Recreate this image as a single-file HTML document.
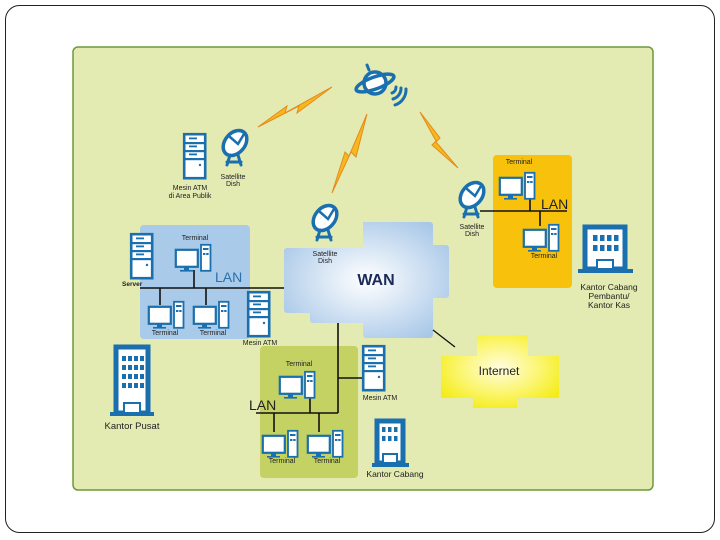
<!DOCTYPE html>
<html><head><meta charset="utf-8"><style>
html,body{margin:0;padding:0;background:#fff;}
svg{display:block;font-family:"Liberation Sans",Arial,sans-serif;}
</style></head><body>
<svg width="720" height="540" viewBox="0 0 720 540" xmlns="http://www.w3.org/2000/svg">
<defs>
<radialGradient id="wg" cx="0.5" cy="0.5" r="0.6"><stop offset="0" stop-color="#ffffff"/><stop offset="1" stop-color="#a9c8e8"/></radialGradient>
<radialGradient id="yg" cx="0.5" cy="0.45" r="0.6"><stop offset="0" stop-color="#fffde0"/><stop offset="0.6" stop-color="#fbf56a"/><stop offset="1" stop-color="#f4ec1a"/></radialGradient>
<g id="term">
<rect x="0.8" y="5.8" width="22" height="17" fill="#fff" stroke="#1a6fae" stroke-width="2.2"/>
<rect x="9" y="23" width="5" height="3" fill="#1a6fae"/><rect x="5" y="26" width="13" height="1.6" fill="#1a6fae"/>
<rect x="26" y="0.8" width="9.5" height="26" fill="#fff" stroke="#1a6fae" stroke-width="1.8"/>
<rect x="28" y="4" width="5.5" height="2" fill="#1a6fae"/><rect x="28" y="9" width="2.4" height="2" fill="#1a6fae"/><rect x="31.2" y="9" width="2.4" height="2" fill="#1a6fae"/>
</g>
<g id="srv">
<rect x="1.2" y="1.2" width="21" height="44" fill="#fff" stroke="#1a6fae" stroke-width="2.6"/>
<rect x="1.2" y="9" width="21" height="2.2" fill="#1a6fae"/><rect x="1.2" y="17" width="21" height="2.2" fill="#1a6fae"/><rect x="1.2" y="25" width="21" height="2.2" fill="#1a6fae"/>
<rect x="6" y="4.5" width="8" height="1.8" fill="#1a6fae"/><rect x="6" y="12.5" width="8" height="1.8" fill="#1a6fae"/><rect x="6" y="20.5" width="8" height="1.8" fill="#1a6fae"/>
<circle cx="17" cy="32" r="1.2" fill="#1a6fae"/>
</g>
<g id="dish" fill="none" stroke="#1a6fae" stroke-linecap="round">
<ellipse cx="17" cy="15" rx="10" ry="14" transform="rotate(40 17 15)" fill="#fff" stroke-width="3.5"/>
<path d="M12 9 L20 16 L26 6" stroke-width="2.5"/>
<path d="M12 27 L9 37 M20 27 L23 37 M9 34 L23 34" stroke-width="3"/>
</g>
<g id="bolt"><path d="M0 0 L14 -9 L12 -3 L30 -12 L16 -1 L18 -6 Z" fill="#f7b81e" stroke="#e08a1a" stroke-width="0.8"/></g>
</defs>
<rect x="5.5" y="5.5" width="709" height="527" rx="14" fill="#fff" stroke="#222" stroke-width="1"/>
<rect x="73" y="47" width="580" height="443" rx="5" fill="#e3eab2" stroke="#6d9a3a" stroke-width="1.5"/>

<!-- satellite -->
<g stroke="#1a6fae" fill="none" stroke-linecap="round">
<circle cx="375" cy="83" r="11" fill="#fff" stroke-width="3.5"/>
<ellipse cx="375" cy="83" rx="20" ry="6" transform="rotate(-20 375 83)" stroke-width="3.5"/>
<path d="M369 70 L367 65" stroke-width="3"/>
<path d="M392 93 a6 6 0 0 0 4 -6 M393 99 a11 11 0 0 0 8 -11 M395 105 a16 16 0 0 0 11 -16" stroke-width="3"/>
</g>
<!-- bolts -->
<path d="M258 127 L287 106 L285 113 L332 87 L297 113 L299 106 Z" fill="#f7b81e" stroke="#e58a1c" stroke-width="1"/>
<path d="M332 193 L345 152 L349 156 L367 114 L356 157 L351 152 Z" fill="#f7b81e" stroke="#e58a1c" stroke-width="1"/>
<path d="M420 112 L440 138 L436 142 L458 168 L432 145 L436 141 Z" fill="#f7b81e" stroke="#e58a1c" stroke-width="1"/>

<!-- ATM public -->
<use href="#srv" x="183" y="133"/>
<use href="#dish" x="218" y="128"/>
<text x="190" y="190" font-size="7" text-anchor="middle" fill="#222">Mesin ATM</text>
<text x="190" y="198" font-size="7" text-anchor="middle" fill="#222">di Area Publik</text>
<text x="233" y="179" font-size="7" text-anchor="middle" fill="#222">Satellite</text>
<text x="233" y="186" font-size="7" text-anchor="middle" fill="#222">Dish</text>

<!-- blue LAN -->
<rect x="140" y="225" width="110" height="114" rx="4" fill="#a9cbe9"/>
<g stroke="#111" stroke-width="1.6"><line x1="140" y1="288" x2="285" y2="288"/><line x1="194" y1="270" x2="194" y2="288"/><line x1="160" y1="288" x2="160" y2="305"/><line x1="206" y1="288" x2="206" y2="305"/></g>
<use href="#srv" x="130" y="233"/>
<text x="122" y="286" font-size="6.5" font-weight="bold" fill="#222">Server</text>
<use href="#term" x="175" y="244"/>
<text x="195" y="240" font-size="7" text-anchor="middle" fill="#222">Terminal</text>
<text x="215" y="282" font-size="14" fill="#2c6fad">LAN</text>
<use href="#term" x="148" y="301"/><use href="#term" x="193" y="301"/>
<text x="165" y="335" font-size="7" text-anchor="middle" fill="#222">Terminal</text>
<text x="213" y="335" font-size="7" text-anchor="middle" fill="#222">Terminal</text>
<use href="#srv" x="247" y="291"/>
<text x="260" y="345" font-size="7" text-anchor="middle" fill="#222">Mesin ATM</text>

<!-- WAN -->
<path d="M363 222 H430 a3 3 0 0 1 3 3 V245 H446 a3 3 0 0 1 3 3 V295 a3 3 0 0 1 -3 3 H433 V335 a3 3 0 0 1 -3 3 H366 a3 3 0 0 1 -3 -3 V323 H313 a3 3 0 0 1 -3 -3 V313 H287 a3 3 0 0 1 -3 -3 V251 a3 3 0 0 1 3 -3 H363 Z" fill="url(#wg)"/>
<use href="#dish" x="308" y="203"/>
<text x="325" y="256" font-size="7" text-anchor="middle" fill="#222">Satellite</text>
<text x="325" y="263" font-size="7" text-anchor="middle" fill="#222">Dish</text>
<text x="376" y="285" font-size="16" font-weight="bold" text-anchor="middle" fill="#1c2a5a">WAN</text>
<line x1="433" y1="330" x2="455" y2="347" stroke="#111" stroke-width="1.3"/>

<!-- Internet -->
<path d="M477 335 H528 V356 H559 V398 H517 V408 H473 V398 H441 V356 H477 Z" fill="url(#yg)"/>
<text x="499" y="375" font-size="12" text-anchor="middle" fill="#222">Internet</text>

<!-- Kantor Pusat -->
<g fill="#1a6fae">
<rect x="116" y="347" width="32" height="66" fill="#fff" stroke="#1a6fae" stroke-width="5"/>
<rect x="110" y="412" width="44" height="4"/>
<rect x="124" y="403" width="16" height="10" fill="#fff" stroke="#1a6fae" stroke-width="2"/>
</g>
<g fill="#1a6fae">
<rect x="122" y="356" width="4" height="5"/><rect x="128" y="356" width="4" height="5"/><rect x="134" y="356" width="4" height="5"/><rect x="140" y="356" width="4" height="5"/>
<rect x="122" y="365" width="4" height="5"/><rect x="128" y="365" width="4" height="5"/><rect x="134" y="365" width="4" height="5"/><rect x="140" y="365" width="4" height="5"/>
<rect x="122" y="374" width="4" height="5"/><rect x="128" y="374" width="4" height="5"/><rect x="134" y="374" width="4" height="5"/><rect x="140" y="374" width="4" height="5"/>
<rect x="122" y="383" width="4" height="5"/><rect x="128" y="383" width="4" height="5"/><rect x="134" y="383" width="4" height="5"/><rect x="140" y="383" width="4" height="5"/>
</g>
<text x="132" y="429" font-size="9.5" text-anchor="middle" fill="#222">Kantor Pusat</text>

<!-- green LAN -->
<rect x="260" y="346" width="98" height="132" rx="4" fill="#c3d263"/>
<g stroke="#111" stroke-width="1.6"><line x1="338" y1="323" x2="338" y2="413"/><line x1="338" y1="378" x2="363" y2="378"/><line x1="256" y1="413" x2="338" y2="413"/><line x1="310" y1="397" x2="310" y2="413"/><line x1="274" y1="413" x2="274" y2="432"/><line x1="319" y1="413" x2="319" y2="432"/></g>
<use href="#term" x="279" y="371"/>
<text x="299" y="366" font-size="7" text-anchor="middle" fill="#222">Terminal</text>
<text x="249" y="410" font-size="14" fill="#222">LAN</text>
<use href="#term" x="262" y="430"/><use href="#term" x="307" y="430"/>
<text x="282" y="463" font-size="7" text-anchor="middle" fill="#222">Terminal</text>
<text x="327" y="463" font-size="7" text-anchor="middle" fill="#222">Terminal</text>
<use href="#srv" x="362" y="345"/>
<text x="380" y="400" font-size="7" text-anchor="middle" fill="#222">Mesin ATM</text>

<!-- Kantor Cabang -->
<rect x="377" y="421" width="26" height="42" fill="#fff" stroke="#1a6fae" stroke-width="5"/>
<rect x="372" y="463" width="37" height="4" fill="#1a6fae"/>
<rect x="383" y="454" width="14" height="9" fill="#fff" stroke="#1a6fae" stroke-width="2"/>
<g fill="#1a6fae"><rect x="382" y="427" width="3.5" height="5"/><rect x="388" y="427" width="3.5" height="5"/><rect x="394" y="427" width="3.5" height="5"/><rect x="382" y="436" width="3.5" height="5"/><rect x="388" y="436" width="3.5" height="5"/><rect x="394" y="436" width="3.5" height="5"/></g>
<text x="395" y="477" font-size="8.5" text-anchor="middle" fill="#222">Kantor Cabang</text>

<!-- yellow LAN -->
<rect x="493" y="155" width="79" height="133" rx="4" fill="#f8c20c"/>
<g stroke="#111" stroke-width="1.6"><line x1="480" y1="211" x2="567" y2="211"/><line x1="530" y1="197" x2="530" y2="211"/><line x1="540" y1="211" x2="540" y2="226"/></g>
<use href="#term" x="499" y="172"/>
<text x="519" y="164" font-size="7" fill="#222" text-anchor="middle">Terminal</text>
<text x="541" y="209" font-size="14" fill="#222">LAN</text>
<use href="#term" x="523" y="224"/>
<text x="544" y="258" font-size="7" text-anchor="middle" fill="#222">Terminal</text>
<use href="#dish" x="455" y="180"/>
<text x="472" y="229" font-size="7" text-anchor="middle" fill="#222">Satellite</text>
<text x="472" y="236" font-size="7" text-anchor="middle" fill="#222">Dish</text>

<!-- Kantor Cabang Pembantu -->
<rect x="585" y="227" width="40" height="42" fill="#fff" stroke="#1a6fae" stroke-width="5"/>
<rect x="578" y="269" width="55" height="4" fill="#1a6fae"/>
<rect x="597" y="260" width="16" height="9" fill="#fff" stroke="#1a6fae" stroke-width="2"/>
<g fill="#1a6fae"><rect x="593" y="235" width="4.5" height="6"/><rect x="600" y="235" width="4.5" height="6"/><rect x="607" y="235" width="4.5" height="6"/><rect x="614" y="235" width="4.5" height="6"/><rect x="593" y="245" width="4.5" height="6"/><rect x="600" y="245" width="4.5" height="6"/><rect x="607" y="245" width="4.5" height="6"/><rect x="614" y="245" width="4.5" height="6"/></g>
<text x="609" y="290" font-size="8.5" text-anchor="middle" fill="#222">Kantor Cabang</text>
<text x="609" y="299" font-size="8.5" text-anchor="middle" fill="#222">Pembantu/</text>
<text x="609" y="308" font-size="8.5" text-anchor="middle" fill="#222">Kantor Kas</text>
</svg>
</body></html>
